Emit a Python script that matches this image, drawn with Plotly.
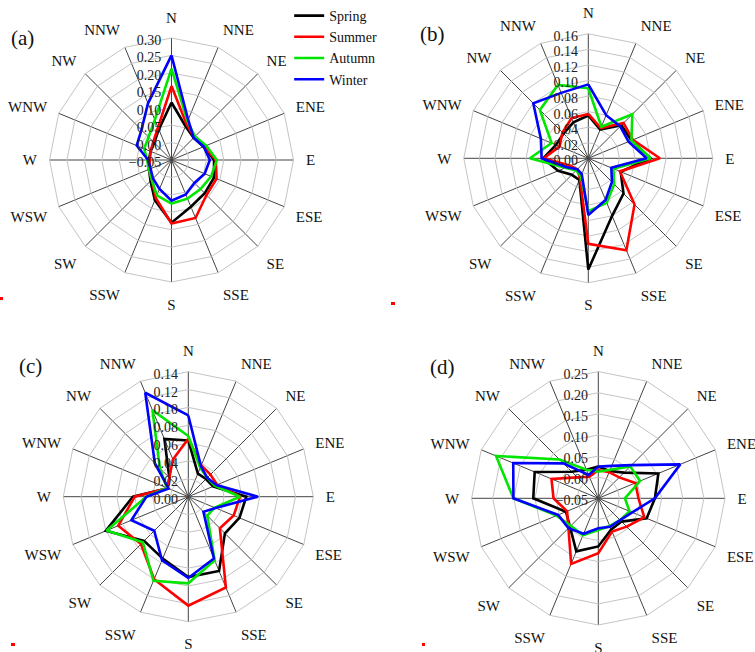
import plotly.graph_objects as go

dirs = ["N", "NNE", "NE", "ENE", "E", "ESE", "SE", "SSE",
        "S", "SSW", "SW", "WSW", "W", "WNW", "NW", "NNW"]
seasons = ["Spring", "Summer", "Autumn", "Winter"]
colors = ["#000000", "#ff0000", "#00e600", "#0000ff"]

# panel (a)
a_spring = [0.115, 0.055, 0.040, 0.050, 0.072, 0.082, 0.085, 0.095, 0.130, 0.075, 0.035, 0.020, 0.015, 0.015, 0.020, 0.045]
a_summer = [0.162, 0.062, 0.042, 0.052, 0.077, 0.090, 0.092, 0.130, 0.132, 0.068, 0.030, 0.020, 0.012, 0.015, 0.024, 0.051]
a_autumn = [0.212, 0.070, 0.045, 0.058, 0.080, 0.073, 0.068, 0.070, 0.075, 0.060, 0.030, 0.020, 0.020, 0.035, 0.043, 0.075]
a_winter = [0.250, 0.075, 0.040, 0.050, 0.060, 0.053, 0.043, 0.057, 0.067, 0.040, 0.025, 0.015, 0.017, 0.058, 0.072, 0.126]

# panel (b)
b_spring = [0.055, 0.040, 0.060, 0.060, 0.080, 0.045, 0.064, 0.080, 0.143, 0.030, 0.030, 0.042, 0.058, 0.045, 0.045, 0.050]
b_summer = [0.057, 0.042, 0.064, 0.062, 0.092, 0.044, 0.084, 0.128, 0.110, 0.028, 0.020, 0.025, 0.057, 0.040, 0.047, 0.056]
b_autumn = [0.090, 0.044, 0.080, 0.060, 0.080, 0.035, 0.047, 0.062, 0.068, 0.025, 0.022, 0.032, 0.075, 0.051, 0.088, 0.102]
b_winter = [0.095, 0.060, 0.058, 0.056, 0.075, 0.032, 0.043, 0.058, 0.073, 0.022, 0.020, 0.030, 0.060, 0.066, 0.100, 0.091]

# panel (c)
c_spring = [0.063, 0.028, 0.028, 0.030, 0.065, 0.062, 0.058, 0.090, 0.090, 0.075, 0.070, 0.100, 0.062, 0.025, 0.030, 0.070]
c_summer = [0.065, 0.038, 0.035, 0.035, 0.058, 0.055, 0.050, 0.110, 0.122, 0.100, 0.075, 0.085, 0.060, 0.025, 0.030, 0.045]
c_autumn = [0.068, 0.035, 0.030, 0.032, 0.058, 0.032, 0.030, 0.077, 0.097, 0.102, 0.072, 0.099, 0.047, 0.026, 0.045, 0.105]
c_winter = [0.091, 0.037, 0.030, 0.034, 0.078, 0.033, 0.024, 0.075, 0.091, 0.077, 0.054, 0.069, 0.047, 0.024, 0.053, 0.126]

# panel (d)
d_spring = [0.025, 0.020, 0.036, 0.104, 0.084, 0.074, 0.028, 0.030, 0.064, 0.086, 0.045, 0.033, 0.104, 0.113, 0.039, 0.023]
d_summer = [0.017, 0.017, 0.020, 0.045, 0.045, 0.068, 0.045, 0.035, 0.080, 0.118, 0.050, 0.030, 0.056, 0.070, 0.020, 0.005]
d_autumn = [0.013, 0.023, 0.057, 0.057, 0.013, 0.030, 0.023, 0.021, 0.025, 0.045, 0.042, 0.057, 0.151, 0.212, 0.080, 0.023]
d_winter = [0.025, 0.033, 0.061, 0.160, 0.084, 0.037, 0.023, 0.023, 0.021, 0.041, 0.050, 0.053, 0.151, 0.168, 0.067, 0.010]

panels = [
    ("polar", [a_spring, a_summer, a_autumn, a_winter], [-0.05, 0.30], 0.05, "(a)"),
    ("polar2", [b_spring, b_summer, b_autumn, b_winter], [0.0, 0.16], 0.02, "(b)"),
    ("polar3", [c_spring, c_summer, c_autumn, c_winter], [0.0, 0.14], 0.02, "(c)"),
    ("polar4", [d_spring, d_summer, d_autumn, d_winter], [-0.05, 0.25], 0.05, "(d)"),
]

W, H = 755, 652
# centre x, centre y, radius in pixels
geom = [(171.5, 160, 122), (588.3, 158.3, 124.5), (188.3, 496.7, 125), (598.3, 498.3, 126.7)]
label_pos = [(22, 38), (432, 34), (30, 366), (442, 367)]

FONT = "Liberation Serif, Times New Roman, serif"

fig = go.Figure()
for pi, (pname, series, rng, dt, lab) in enumerate(panels):
    for si, vals in enumerate(series):
        fig.add_trace(go.Scatterpolar(
            r=vals + [vals[0]], theta=dirs + [dirs[0]],
            mode="lines", name=seasons[si],
            line=dict(color=colors[si], width=2.6),
            subplot=pname, showlegend=(pi == 0),
        ))

layout = dict(
    width=W, height=H,
    margin=dict(l=0, r=0, t=0, b=0),
    paper_bgcolor="white",
    font=dict(family=FONT, color="#111111"),
    showlegend=True,
    legend=dict(x=0.383, y=1.0, xanchor="left", yanchor="top",
                font=dict(family=FONT, size=14, color="#111111"),
                bgcolor="rgba(0,0,0,0)", tracegroupgap=0, itemwidth=30),
)
annotations = []
for pi, (pname, series, rng, dt, lab) in enumerate(panels):
    cx, cy, R = geom[pi]
    dom_x = [(cx - R) / W, (cx + R) / W]
    dom_y = [1 - (cy + R) / H, 1 - (cy - R) / H]
    layout[pname] = dict(
        domain=dict(x=dom_x, y=dom_y),
        gridshape="linear",
        bgcolor="white",
        angularaxis=dict(
            type="category", categoryarray=dirs, direction="clockwise", rotation=90,
            gridcolor="#444444", gridwidth=1, showline=True, linecolor="#c4c4c4", linewidth=1,
            ticks="outside", ticklen=9, tickcolor="rgba(0,0,0,0)",
            tickfont=dict(family=FONT, size=15, color="#111111"),
        ),
        radialaxis=dict(
            range=rng, dtick=dt, tick0=0, tickformat=".2f", angle=90,
            gridcolor="#c4c4c4", gridwidth=1, showline=False, ticks="",
            tickfont=dict(family=FONT, size=14, color="#222222"),
            side="counterclockwise",
        ),
    )
    lx, ly = label_pos[pi]
    annotations.append(dict(x=lx / W, y=1 - ly / H, xref="paper", yref="paper",
                            xanchor="center", yanchor="middle",
                            text=lab, showarrow=False,
                            font=dict(family=FONT, size=21, color="#111111")))
layout["annotations"] = annotations

# small red marks present in the picture
marks = [(0, 297, 3, 300), (391, 302, 395, 305), (11, 643, 15, 646), (422, 643, 425, 646)]
layout["shapes"] = [dict(type="rect", xref="paper", yref="paper",
                         x0=x0 / W, x1=x1 / W, y0=1 - y1 / H, y1=1 - y0 / H,
                         fillcolor="#ff0000", line=dict(width=0))
                    for (x0, y0, x1, y1) in marks]

fig.update_layout(**layout)
fig.write_html("out.html", config={"displayModeBar": False},
               post_script="document.body.style.margin='0';document.body.style.padding='0';")
